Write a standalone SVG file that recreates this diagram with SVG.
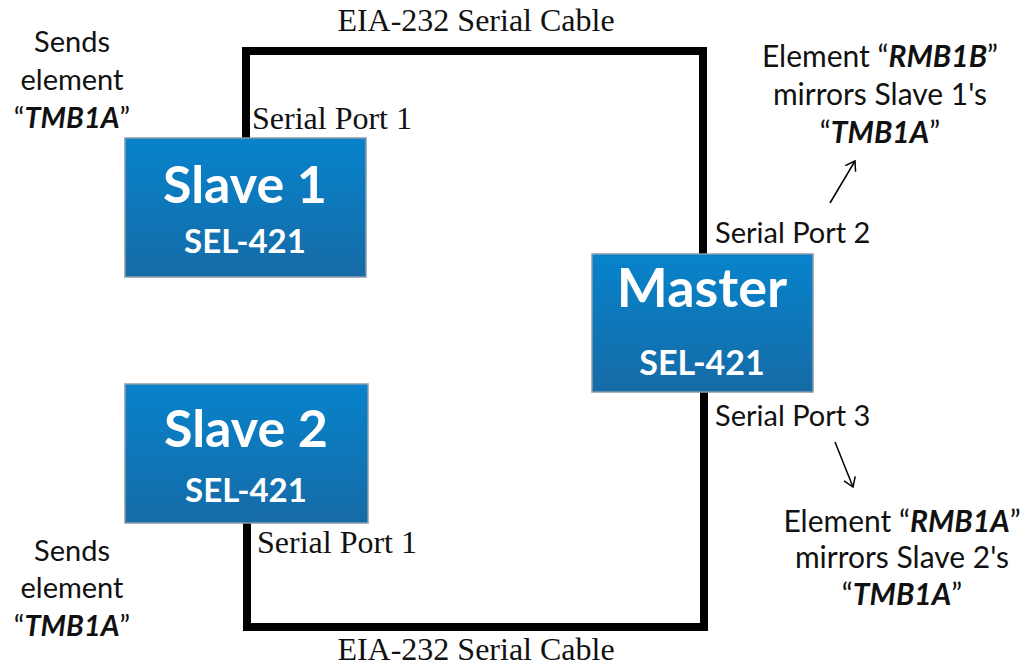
<svg xmlns="http://www.w3.org/2000/svg" width="1024" height="668" viewBox="0 0 1024 668">
<defs>
<linearGradient id="blue" x1="0" y1="0" x2="0" y2="1">
<stop offset="0" stop-color="#0783cc"/>
<stop offset="1" stop-color="#166ba6"/>
</linearGradient>
<marker id="open" markerWidth="14" markerHeight="14" refX="10" refY="7" orient="auto" markerUnits="userSpaceOnUse">
<path d="M1,1 L10,7 L1,13" fill="none" stroke="#000" stroke-width="1.5"/>
</marker>
<style>
.box{fill:url(#blue);stroke:#8a9aa8;stroke-width:1.5}
.big{font-family:Lato,"Open Sans",sans-serif;font-weight:bold;fill:#fff;text-anchor:middle}
.sel{font-family:Lato,"Open Sans",sans-serif;font-weight:bold;fill:#fff;text-anchor:middle}
.serif{font-family:"Liberation Serif",serif;font-size:32px;fill:#111}
.sans{font-family:Lato,"Open Sans",sans-serif;font-size:29px;fill:#111}
.sans30{font-family:Lato,"Open Sans",sans-serif;font-size:30px;fill:#111}
.mid{text-anchor:middle}
.bi{font-weight:bold;font-style:italic}
.cable{fill:none;stroke:#000;stroke-width:8}
.arr{fill:none;stroke:#000;stroke-width:1.5}
</style>
</defs>
<g id="connectors">
<polyline class="cable" points="246,138 246,51 703,51 703,254"/>
<polyline class="cable" points="247,523 247,627 704,627 704,392"/>
<line class="arr" x1="830" y1="203" x2="855" y2="161" marker-end="url(#open)"/>
<line class="arr" x1="835" y1="442" x2="853" y2="487" marker-end="url(#open)"/>
</g>
<g id="slave1">
<rect class="box" x="125" y="138" width="241" height="139"/>
<text class="big" x="245" y="203" font-size="52">Slave 1</text>
<text class="sel" x="245" y="253" font-size="33">SEL-421</text>
</g>
<g id="slave2">
<rect class="box" x="125" y="384" width="243" height="139"/>
<text class="big" x="246" y="447" font-size="52">Slave 2</text>
<text class="sel" x="246" y="502" font-size="33">SEL-421</text>
</g>
<g id="master">
<rect class="box" x="592" y="254" width="221" height="138"/>
<text class="big" x="702" y="307" font-size="54">Master</text>
<text class="sel" x="702" y="375" font-size="34">SEL-421</text>
</g>
<g id="labels">
<text class="serif mid" x="476" y="31">EIA-232 Serial Cable</text>
<text class="serif mid" x="476" y="660">EIA-232 Serial Cable</text>
<text class="serif" x="252" y="129">Serial Port 1</text>
<text class="serif" x="257" y="553">Serial Port 1</text>
<text class="sans" x="715" y="243">Serial Port 2</text>
<text class="sans" x="715" y="426">Serial Port 3</text>
<text class="sans mid" x="72" y="52">Sends</text>
<text class="sans mid" x="72" y="90">element</text>
<text class="sans mid" x="72" y="128">“<tspan class="bi">TMB1A</tspan>”</text>
<text class="sans mid" x="72" y="561">Sends</text>
<text class="sans mid" x="72" y="598">element</text>
<text class="sans mid" x="72" y="636">“<tspan class="bi">TMB1A</tspan>”</text>
<text class="sans30 mid" x="880" y="67">Element “<tspan class="bi">RMB1B</tspan>”</text>
<text class="sans30 mid" x="880" y="105">mirrors Slave 1's</text>
<text class="sans30 mid" x="880" y="143">“<tspan class="bi">TMB1A</tspan>”</text>
<text class="sans30 mid" x="902" y="532">Element “<tspan class="bi">RMB1A</tspan>”</text>
<text class="sans30 mid" x="902" y="568">mirrors Slave 2's</text>
<text class="sans30 mid" x="902" y="605">“<tspan class="bi">TMB1A</tspan>”</text>
</g>
</svg>
